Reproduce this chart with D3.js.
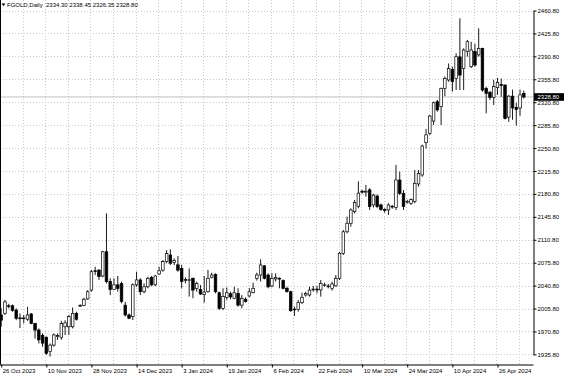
<!DOCTYPE html>
<html>
<head>
<meta charset="utf-8">
<script src="https://cdn.jsdelivr.net/npm/d3@7"></script>
<style>
  body { margin: 0; background: #fff; }
  svg text { font-family: "Liberation Sans", Arial, sans-serif; font-size: 6px; fill: #000; }
</style>
</head>
<body>
<svg id="chart" width="564" height="376"></svg>
<script>
// daily OHLC
const open = [1996,1998.5,2010,2010,2003.5,1991.5,1990.5,1989.5,1997.5,1983,1973,1965,1962,1940,1950,1963.5,1962,1978,1978,1978,
  1998.5,2010,2010.5,2020.5,2034,2063.5,2064.5,2055.5,2092.5,2047,2035,2042,2044,2011,1996,1993.5,2042,2049.5,2031.5,2039,
  2053.5,2042,2058.5,2064.5,2077.5,2087.5,2076,2072.5,2067,2049,2049,2052,2036.5,2035,2027,2031.5,2053.5,2058,2030,2006,
  2023,2028.5,2021.5,2029,2011,2020,2025,2030,2052,2057,2071,2057,2040.3,2051,2052,2048.4,2036.7,2031.5,2005,2004.6,
  2014.8,2026.5,2026.5,2035,2035.5,2034.2,2041.5,2040,2036.7,2040.3,2052,2090,2123,2136,2153.7,2162,2185,2183.5,2187,2164,
  2177.5,2164,2157,2156.3,2162,2160.3,2202,2181.7,2168,2166.4,2169,2196,2209.7,2259,2273.3,2292,2321.6,2314,2342,2354.7,
  2371,2357.2,2390,2372.5,2398,2375,2398,2393,2403,2342,2336,2328,2343,2348,2347,2298,2330,2313,2312,2334.3];
const high = [2006,2019,2013,2012,2006,1998.5,1996,2008.5,1999,1984,1975.5,1968,1963,1952.5,1968,1968,1987,1988,1996,2007.5,
  2001,2012.5,2022.5,2034,2064.7,2069.5,2066,2094,2151,2052,2052,2055.5,2047,2016,1998.5,2044.3,2062,2052,2044.3,2054.5,
  2055.5,2057,2069.7,2080,2095,2096.2,2082.5,2086,2072.3,2053.5,2067,2053,2046.9,2041.8,2055.5,2064.7,2060.6,2059.6,2031.6,2036.7,
  2038.2,2031.6,2039.2,2036.7,2026.5,2023,2036.7,2045.3,2060.6,2081,2072.3,2059.6,2059.6,2059.6,2053.5,2050.4,2039.2,2033,2008.7,2018.9,
  2030,2031.6,2039.2,2040.3,2040.3,2049.4,2045.3,2043.3,2046.9,2057,2092.6,2125.8,2146.1,2158.8,2171.5,2200,2187,2194.5,2189.5,2181,
  2180,2166,2159,2166.4,2164,2225,2214.8,2186.8,2172,2174,2217.3,2217.3,2256,2280,2301.3,2321.6,2324.2,2343,2360,2380,
  2375,2395.4,2449,2403,2415.8,2413,2410,2433.6,2404,2344.5,2338,2355,2358,2357,2348,2332,2340,2320,2340,2338.45];
const low = [1978,1996,2006,2001,1988,1976,1983,1987,1982,1960,1952.5,1947.5,1935,1932.5,1947.5,1958,1958,1965.5,1965.5,1975.5,
  1987.5,2008.5,2009.5,2019,2031.5,2057,2049.5,2053.5,2044,2026.5,2034,2031.5,2013.8,1993.5,1989.5,1988.3,2039,2026.5,2029,2036.7,
  2040,2040,2057,2062,2075,2072.3,2072.3,2062,2036.7,2044.3,2024,2021.5,2031.6,2026.5,2014.8,2030,2051.9,2029,2003.6,2003.6,
  2019,2020,2020,2008.7,2006.2,2014.8,2023,2029,2048.4,2046.9,2050.4,2036.7,2038.2,2047,2036.7,2035,2030,2001,1994.5,2001,
  2012.8,2024,2024,2031.6,2029,2024,2039.2,2036.7,2033.2,2039.2,2049.4,2087.6,2120.6,2130.8,2151.2,2158.8,2181,2176.5,2156.3,2160,
  2159,2155,2152,2148.6,2158,2156.3,2179.2,2156.3,2166,2163.9,2166.4,2191.9,2207,2250,2270.8,2286,2306.4,2286,2330,2352,
  2337,2339.4,2339.4,2339.4,2390.3,2373,2375,2390.3,2336.9,2303.8,2324,2316.5,2332,2329,2294.5,2291,2294,2285,2300,2326.35];
const close = [1988,2016,2009.5,2003,1991,1990.5,1991.5,1996,1983,1973,1958,1953,1937.5,1950,1965.5,1964.5,1983,1984,1993.5,1998.5,
  1989.5,2010.5,2020,2031.5,2062,2062.5,2054.5,2092.5,2047,2035,2042,2036.5,2016.5,1996,1991,2042,2049.5,2031.5,2039,2052,
  2042,2055.5,2063.5,2077.5,2090,2075,2079,2064.5,2047,2050,2049.8,2034,2044,2028,2031,2052,2057,2031.5,2006,2024,
  2030,2023.5,2030,2011,2021.5,2016.5,2031.5,2036.7,2057,2072.3,2052,2039,2052,2053,2051,2036.7,2031.6,2002.5,2004,2014.8,
  2023,2029,2034,2035.5,2035,2044.3,2042,2040.3,2043.3,2052,2090,2123,2136,2156.3,2167.5,2182,2183.5,2185,2161.5,2179,
  2161.5,2157.3,2155.5,2164,2160.8,2202,2181.7,2161.4,2169.5,2172.5,2197,2212.2,2254,2271,2299.7,2320,2309,2342,2357,2372.5,
  2352.2,2390.3,2362.3,2400.5,2413.2,2400.5,2377.6,2403,2339.4,2334.3,2328,2345,2351,2346.5,2296,2330,2312,2309.5,2332,2328.8];

const dateTicks = [0, 12, 24, 36, 48, 60, 72, 84, 96, 108, 120, 132];
const dateLabels = ["26 Oct 2023", "10 Nov 2023", "28 Nov 2023", "14 Dec 2023", "3 Jan 2024", "19 Jan 2024",
  "6 Feb 2024", "22 Feb 2024", "10 Mar 2024", "24 Mar 2024", "10 Apr 2024", "26 Apr 2024"];
const priceTicks = [1935.8, 1970.8, 2005.8, 2040.8, 2075.8, 2110.8, 2145.8, 2180.8, 2215.8, 2250.8,
  2285.8, 2320.8, 2355.8, 2390.8, 2425.8, 2460.8];
const lastPrice = 2328.8;
const title = "FGOLD,Daily";

const svg = d3.select("#chart");
const plotRight = 533.5, plotBottom = 364.5;

const x = d3.scaleLinear().domain([0, open.length - 1]).range([1.2, 523.8]);
const y = d3.scaleLinear().domain([1935.8, 2460.8]).range([354.4, 10.5]);

const grid = svg.append("g").attr("stroke", "#c8c8c8").attr("stroke-dasharray", "1,2").attr("stroke-width", 1);
grid.selectAll("line.h")
  .data(priceTicks)
  .join("line")
  .attr("class", "h")
  .attr("x1", 0).attr("x2", plotRight)
  .attr("y1", d => Math.round(y(d)) + 0.5).attr("y2", d => Math.round(y(d)) + 0.5);
grid.selectAll("line.v")
  .data(d3.range(6, open.length, 6))
  .join("line")
  .attr("class", "v")
  .attr("x1", d => Math.round(x(d)) - 0.5).attr("x2", d => Math.round(x(d)) - 0.5)
  .attr("y1", 0).attr("y2", plotBottom);

// current price line
svg.append("line")
  .attr("x1", 0).attr("x2", plotRight)
  .attr("y1", y(lastPrice)).attr("y2", y(lastPrice))
  .attr("stroke", "#c0c0c0").attr("stroke-width", 1);

// candles
const candles = svg.append("g")
  .selectAll("g")
  .data(d3.range(open.length))
  .join("g");

candles.append("line")
  .attr("x1", i => x(i)).attr("x2", i => x(i))
  .attr("y1", i => y(high[i])).attr("y2", i => y(low[i]))
  .attr("stroke", "#000").attr("stroke-width", 0.9);

candles.append("rect")
  .attr("x", i => x(i) - 1.3)
  .attr("width", 2.6)
  .attr("y", i => y(Math.max(open[i], close[i])))
  .attr("height", i => Math.max(0.8, Math.abs(y(open[i]) - y(close[i]))))
  .attr("fill", i => close[i] >= open[i] ? "#fff" : "#000")
  .attr("stroke", "#000").attr("stroke-width", 0.7);

// frame
svg.append("line").attr("x1", 0.5).attr("x2", 0.5).attr("y1", 0).attr("y2", plotBottom).attr("stroke", "#000");

// price axis
const yAxis = svg.append("g")
  .attr("transform", `translate(${plotRight},0)`)
  .call(d3.axisRight(y).tickValues(priceTicks).tickFormat(d3.format(".2f")).tickSize(3).tickSizeOuter(0));
yAxis.select(".domain").attr("stroke", "#000");
yAxis.selectAll(".tick line").attr("stroke", "#000");
yAxis.selectAll(".tick text").attr("x", 4).attr("font-size", null).attr("font-family", null).attr("dy", "0.34em");

// time axis
const xAxis = svg.append("g")
  .attr("transform", `translate(0,${plotBottom})`)
  .call(d3.axisBottom(x).tickValues(dateTicks).tickFormat((d, k) => dateLabels[k]).tickSize(3).tickSizeOuter(0));
xAxis.select(".domain").attr("d", `M0,0.5H${plotRight}`).attr("stroke", "#000");
xAxis.selectAll(".tick line").attr("stroke", "#000");
xAxis.selectAll(".tick text")
  .attr("text-anchor", "start").attr("x", 1).attr("y", 4).attr("dy", "0.71em")
  .attr("font-size", null).attr("font-family", null);

// last price tag
svg.append("rect")
  .attr("x", plotRight + 0.5).attr("y", y(lastPrice) - 3.8)
  .attr("width", 564 - plotRight).attr("height", 7.6)
  .attr("fill", "#000");
svg.append("text")
  .attr("x", plotRight + 4).attr("y", y(lastPrice)).attr("dy", "0.34em")
  .style("fill", "#fff")
  .text(d3.format(".2f")(lastPrice));

// header
svg.append("path").attr("d", "M1.5,3.5L5.5,3.5L3.5,6Z").attr("fill", "#000");
svg.append("text")
  .attr("x", 7).attr("y", 7)
  .text(`${title}  ${[open, high, low, close].map(a => d3.format(".2f")(a[a.length - 1])).join(" ")}`)
  .attr("xml:space", "preserve");
</script>
</body>
</html>
